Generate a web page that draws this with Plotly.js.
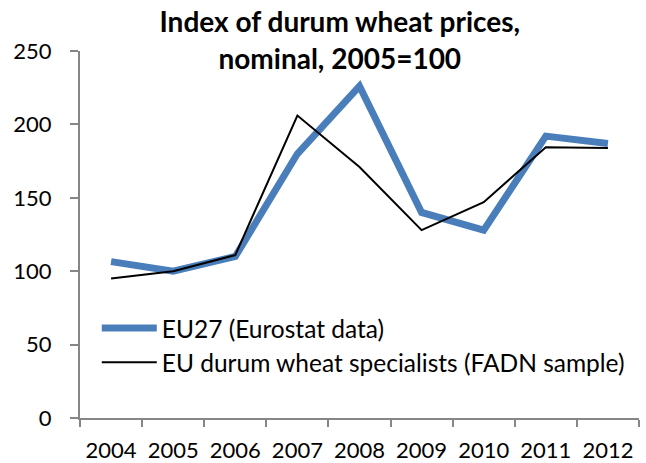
<!DOCTYPE html>
<html>
<head>
<meta charset="utf-8">
<script src="https://cdn.plot.ly/plotly-3.0.1.min.js"></script>
<style>
  html, body { margin: 0; padding: 0; background: #fff; }
  #chart { width: 646px; height: 463px; }
</style>
</head>
<body>
<div id="chart"></div>
<script>
const years = ["2004", "2005", "2006", "2007", "2008", "2009", "2010", "2011", "2012"];
const eu27 = [106.5, 100, 110, 180, 226, 140, 128, 192, 187];
const fadn = [95, 100, 111, 206, 171, 128, 147, 184.5, 184];
const seriesNames = ["EU27 (Eurostat data)", "EU durum wheat specialists (FADN sample)"];
const yTicks = [0, 50, 100, 150, 200, 250];

const FONT = "Lato, 'Open Sans', sans-serif";

const traces = [
  {
    x: years, y: eu27, name: seriesNames[0], type: "scatter", mode: "lines",
    line: { color: "#4a7ebb", width: 7 }, legend: "legend"
  },
  {
    x: years, y: fadn, name: seriesNames[1], type: "scatter", mode: "lines",
    line: { color: "#000000", width: 2 }, legend: "legend2"
  }
];

const layout = {
  width: 646, height: 463,
  paper_bgcolor: "#ffffff", plot_bgcolor: "#ffffff",
  margin: { l: 80, r: 7, t: 51, b: 45 },
  font: { family: FONT, size: 22, color: "#000000" },
  title: {
    text: "<b>Index of durum wheat prices,<br>nominal, 2005=100</b>",
    font: { family: FONT, size: 28, color: "#000000" },
    x: 0.526, xanchor: "center", xref: "container",
    y: 0.93, yanchor: "top", yref: "container"
  },
  xaxis: {
    type: "category", range: [-0.5, 8.5],
    showline: true, linecolor: "#868686", linewidth: 2,
    ticks: "outside", tickson: "boundaries", ticklen: 7, tickcolor: "#868686", tickwidth: 2,
    showgrid: false, zeroline: false,
    tickfont: { family: FONT, size: 22, color: "#000000" },
    ticklabelstandoff: 12
  },
  yaxis: {
    range: [0, 250], tickvals: yTicks,
    showline: true, linecolor: "#868686", linewidth: 2,
    ticks: "outside", ticklen: 8, tickcolor: "#868686", tickwidth: 2,
    showgrid: false, zeroline: false,
    tickfont: { family: FONT, size: 22, color: "#000000" },
    ticklabelstandoff: 14
  },
  showlegend: true,
  legend: {
    x: 0.03, xanchor: "left", y: 0.245, yanchor: "middle",
    bgcolor: "rgba(0,0,0,0)", itemwidth: 55,
    font: { family: FONT, size: 24.5, color: "#000000" }
  },
  legend2: {
    x: 0.03, xanchor: "left", y: 0.152, yanchor: "middle",
    bgcolor: "rgba(0,0,0,0)", itemwidth: 55,
    font: { family: FONT, size: 24.5, color: "#000000" }
  }
};

Plotly.newPlot("chart", traces, layout, { displayModeBar: false, staticPlot: true });
</script>
</body>
</html>
